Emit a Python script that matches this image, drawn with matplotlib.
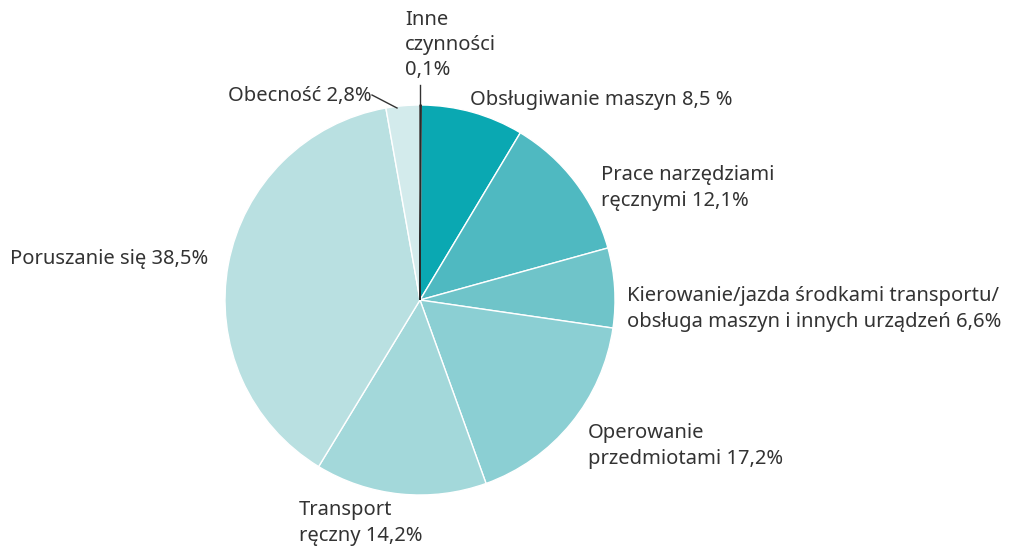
import matplotlib.pyplot as plt

plt.rcParams['font.family'] = ['Noto Sans', 'DejaVu Sans']

# Data (clockwise from the top)
labels = ['Inne\nczynności\n0,1%', 'Obsługiwanie maszyn 8,5 %', 'Prace narzędziami\nręcznymi 12,1%',
          'Kierowanie/jazda środkami transportu/\nobsługa maszyn i innych urządzeń 6,6%',
          'Operowanie\nprzedmiotami 17,2%', 'Transport\nręczny 14,2%',
          'Poruszanie się 38,5%', 'Obecność 2,8%']
shares = [0.1, 8.5, 12.1, 6.6, 17.2, 14.2, 38.5, 2.8]
colors = ['#2b2b2b', '#0aa8b2', '#4fb9c1', '#6fc4c9', '#8bcfd3', '#a3d8da', '#b9e0e1', '#d3ebec']

# label anchor (left edge, vertical centre) in pixel coordinates from top-left
label_pos = [(405, 45), (470, 100), (601, 188), (627, 309), (588, 446),
             (299, 523), (10, 259), (228, 96)]

W, H = 1011, 549
fig = plt.figure(figsize=(W / 100, H / 100), dpi=100)
ax = fig.add_axes([0, 0, 1, 1])

cx, cy, r = 420, H - 300, 195
wedges, _ = ax.pie(shares, colors=colors, startangle=90, counterclock=False,
                   center=(cx, cy), radius=r, frame=True,
                   wedgeprops=dict(edgecolor='white', linewidth=1))
wedges[0].set_edgecolor(colors[0])
wedges[0].set_zorder(5)
ax.set_xlim(0, W)
ax.set_ylim(0, H)
ax.axis('off')

for lab, (x, y) in zip(labels, label_pos):
    ax.text(x, H - y, lab, ha='left', va='center', fontsize=14.5,
            color='#333333', linespacing=1.35)

# leader lines
ax.plot([420, 420], [H - 85, H - 106], color='#333333', lw=1)
ax.plot([372, 397], [H - 95, H - 108], color='#333333', lw=1)

fig.savefig('out.png', dpi=100)
